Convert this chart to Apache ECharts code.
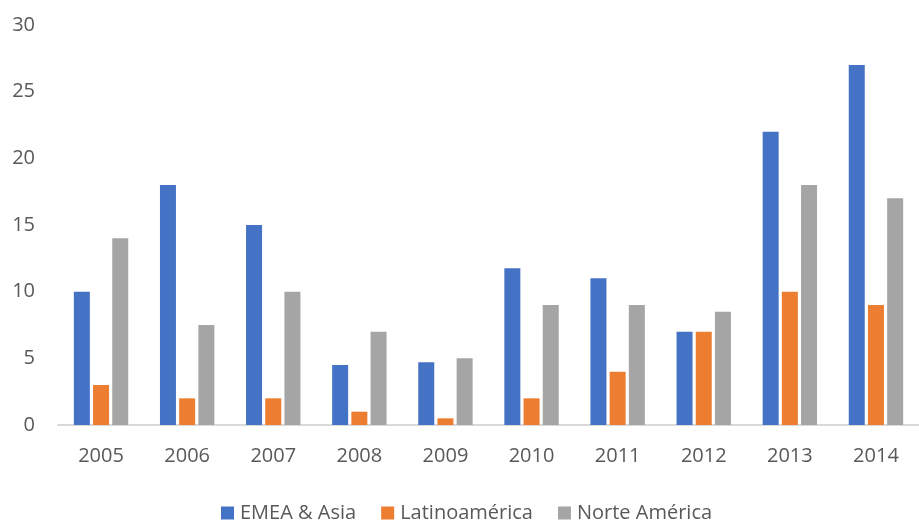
<!DOCTYPE html>
<html>
<head>
<meta charset="utf-8">
<script src="https://cdn.jsdelivr.net/npm/echarts@6/dist/echarts.min.js"></script>
<style>
  html, body { margin: 0; padding: 0; background: #fff; }
  #chart { width: 919px; height: 523px; }
</style>
</head>
<body>
<div id="chart"></div>
<script>
const years = ['2005', '2006', '2007', '2008', '2009', '2010', '2011', '2012', '2013', '2014'];
const emeaAsia = [10, 18, 15, 4.5, 4.7, 11.75, 11, 7, 22, 27];
const latinoamerica = [3, 2, 2, 1, 0.5, 2, 4, 7, 10, 9];
const norteAmerica = [14, 7.5, 10, 7, 5, 9, 9, 8.5, 18, 17];

const seriesNames = ['EMEA & Asia', 'Latinoamérica', 'Norte América'];
const seriesColors = ['#4472c4', '#ed7d31', '#a5a5a5'];
const seriesData = [emeaAsia, latinoamerica, norteAmerica];

const fontFamily = '"Open Sans", "Noto Sans", sans-serif';
const textColor = '#595959';

const chart = echarts.init(document.getElementById('chart'));
chart.setOption({
  animation: false,
  textStyle: { fontFamily: fontFamily },
  grid: { left: 58, right: -10, top: 25, bottom: 98, containLabel: false },
  legend: {
    bottom: 0,
    left: 216,
    padding: [0, 5],
    itemWidth: 13,
    itemHeight: 13,
    itemGap: 25,
    icon: 'rect',
    textStyle: { color: textColor, fontSize: 20, fontFamily: fontFamily, padding: [0, 0, 0, 1] },
    data: seriesNames
  },
  xAxis: {
    type: 'category',
    data: years,
    axisLine: { lineStyle: { color: '#d9d9d9', width: 2 } },
    axisTick: { show: false },
    axisLabel: { color: textColor, fontSize: 20, margin: 21, fontFamily: fontFamily }
  },
  yAxis: {
    type: 'value',
    min: 0,
    max: 30,
    interval: 5,
    axisLine: { show: false },
    axisTick: { show: false },
    splitLine: { show: false },
    axisLabel: { color: textColor, fontSize: 20, margin: 23, fontFamily: fontFamily }
  },
  series: seriesNames.map((name, i) => ({
    name: name,
    type: 'bar',
    data: seriesData[i],
    barWidth: 16,
    barGap: '20%',
    itemStyle: { color: seriesColors[i] }
  }))
});
</script>
</body>
</html>
